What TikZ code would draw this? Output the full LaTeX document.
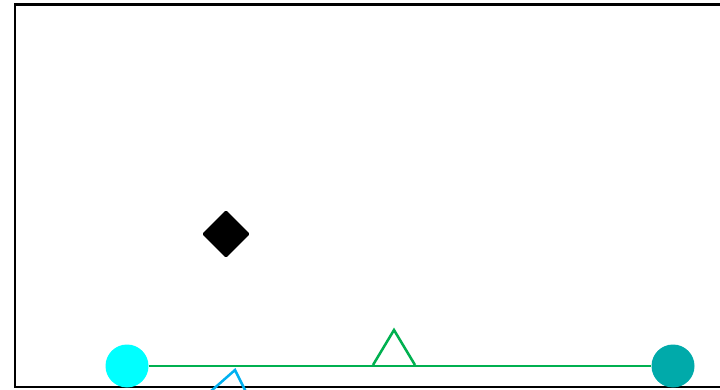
\documentclass[tikz,border=0pt]{standalone}
\usetikzlibrary{shapes.geometric}
\definecolor{cyanvif}{RGB}{0,255,255}
\definecolor{sarcelle}{RGB}{0,170,170}
\definecolor{vert}{RGB}{0,176,80}
\definecolor{bleuclair}{RGB}{0,176,240}

\begin{document}
\begin{tikzpicture}[x=1pt,y=-1pt,
	disque/.style={circle,inner sep=0pt,minimum size=43pt},
	losange/.style={diamond,fill=black,rounded corners=1.5pt,inner sep=0pt,minimum size=48pt}]
	
	\useasboundingbox (0,0) rectangle (720,390);
	
	% cadre
	\draw[line width=2.2pt] (722,4.5) -- (15,4.5) -- (15,387) -- (722,387);
	
	\node[losange] (los) at (226,234) {};
	
	\node[disque,fill=cyanvif] (gauche) at (127,366) {};
	\node[disque,fill=sarcelle] (droite) at (673,366) {};
	
	\draw[vert,line width=2.5pt] (gauche) -- (droite);
	
	% triangles
	\draw[vert,line width=2.5pt,line join=miter] (373,365) -- (394,330) -- (415,365);
	\draw[bleuclair,line width=2.5pt,line join=miter] (210,392) -- (235,370) -- (246,392);
	
\end{tikzpicture}
\end{document}
